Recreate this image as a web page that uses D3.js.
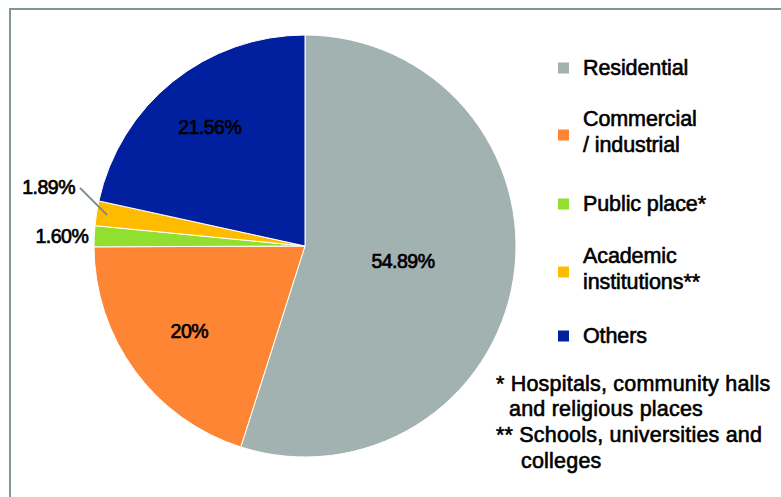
<!DOCTYPE html>
<html>
<head>
<meta charset="utf-8">
<script src="https://cdn.jsdelivr.net/npm/d3@7"></script>
<style>
  body { margin: 0; background: #fff; }
  svg text { font-family: "Liberation Sans", Arial, sans-serif; fill: #000; }
</style>
</head>
<body>
<div id="chart"></div>
<script>
const categories = ["Residential", "Commercial / industrial", "Public place*", "Academic institutions**", "Others"];
const values = [54.89, 20, 1.60, 1.89, 21.56];
const valueLabels = ["54.89%", "20%", "1.60%", "1.89%", "21.56%"];
const colors = ["#a2b2b0", "#fe8534", "#91e02f", "#ffbb00", "#0020a0"];
const legendLines = [["Residential"], ["Commercial", "/ industrial"], ["Public place*"], ["Academic", "institutions**"], ["Others"]];
const footnotes = [
  ["* Hospitals, community halls", "and religious places"],
  ["** Schools, universities and", "colleges"]
];

const width = 781;
const height = 497;

const svg = d3.select("#chart")
  .append("svg")
  .attr("width", width)
  .attr("height", height);

// frame (open at right / bottom, cut by the picture edge)
svg.append("path")
  .attr("d", `M10,${height} L10,9 L${width},9`)
  .attr("fill", "none")
  .attr("stroke", "#849595")
  .attr("stroke-width", 2);

const cx = 305, cy = 246, r = 211;
const g = svg.append("g").attr("transform", `translate(${cx},${cy})`);

const pie = d3.pie().sort(null).value(d => d);
const arcs = pie(values);
const arc = d3.arc().innerRadius(0).outerRadius(r);

g.selectAll("path.slice")
  .data(arcs)
  .join("path")
  .attr("class", "slice")
  .attr("d", arc)
  .attr("fill", (d, i) => colors[i])
  .attr("stroke", "#fff")
  .attr("stroke-width", 1);

function label(sel) {
  return sel.attr("font-size", 19.5)
    .attr("stroke", "#000")
    .attr("stroke-width", 0.7)
    .attr("letter-spacing", -0.5);
}

// inside labels
const labelRadius = [0.47, 0.68, null, null, 0.72];
arcs.forEach((d, i) => {
  if (labelRadius[i] == null) return;
  const la = d3.arc().innerRadius(r * labelRadius[i]).outerRadius(r * labelRadius[i]);
  const [x, y] = la.centroid(d);
  g.append("text")
    .attr("x", x)
    .attr("y", y)
    .attr("dy", "0.35em")
    .attr("text-anchor", "middle")
    .call(label)
    .text(valueLabels[i]);
});

// outside labels for the small slices
const green = arcs[2];
const gp = d3.arc().innerRadius(r + 6).outerRadius(r + 6).centroid(green);
g.append("text")
  .attr("x", gp[0])
  .attr("y", gp[1])
  .attr("dy", "0.35em")
  .attr("text-anchor", "end")
  .call(label)
  .text(valueLabels[2]);

const yellow = arcs[3];
const yp = d3.arc().innerRadius(r * 0.95).outerRadius(r * 0.95).centroid(yellow);
const lx = yp[0] - 27, ly = yp[1] - 27;
g.append("line")
  .attr("x1", yp[0]).attr("y1", yp[1])
  .attr("x2", lx).attr("y2", ly)
  .attr("stroke", "#7b8a8a")
  .attr("stroke-width", 2);
g.append("text")
  .attr("x", lx - 5)
  .attr("y", ly - 1)
  .attr("dy", "0.35em")
  .attr("text-anchor", "end")
  .call(label)
  .text(valueLabels[3]);

// legend
const legendY = [67, 131, 203, 268, 335];
const legend = svg.append("g");
legendLines.forEach((lines, i) => {
  const y0 = legendY[i];
  legend.append("rect")
    .attr("x", 558)
    .attr("y", y0 + (lines.length > 1 ? 4 : 1) - 5.5)
    .attr("width", 11)
    .attr("height", 11)
    .attr("fill", colors[i]);
  const t = legend.append("text")
    .attr("x", 583)
    .attr("y", y0 - (lines.length - 1) * 13)
    .attr("font-size", 21.5)
    .attr("stroke", "#000")
    .attr("stroke-width", 0.6)
    .attr("letter-spacing", -0.1);
  lines.forEach((line, j) => {
    t.append("tspan")
      .attr("x", 583)
      .attr("dy", j === 0 ? "0.35em" : 26)
      .text(line);
  });
});

// footnotes
const notes = svg.append("g");
const noteIndent = [13, 25];
footnotes.forEach((lines, i) => {
  lines.forEach((line, j) => {
    notes.append("text")
      .attr("x", 496 + (j === 0 ? 0 : noteIndent[i]))
      .attr("y", 383 + (i * 2 + j) * 25.7)
      .attr("dy", "0.35em")
      .attr("font-size", 21.5)
      .attr("stroke", "#000")
      .attr("stroke-width", 0.6)
      .attr("letter-spacing", 0.2)
      .text(line);
  });
});
</script>
</body>
</html>
